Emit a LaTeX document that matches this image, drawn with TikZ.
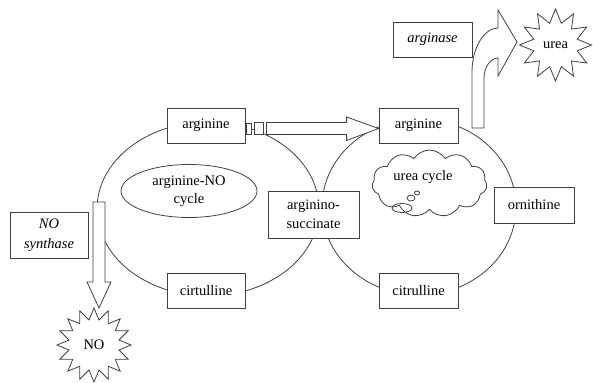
\documentclass[tikz,border=0pt]{standalone}
\usepackage{fontspec}
\setmainfont{Liberation Serif}
\usetikzlibrary{shapes.geometric,shapes.symbols,calc}
\begin{document}
\begin{tikzpicture}[x=1pt,y=-1pt,
  every node/.style={font=\fontsize{14.5}{19}\selectfont},
  ln/.style={draw=black!75,line width=0.8pt},
  box/.style={ln,fill=white,rectangle,inner sep=0pt,align=center},
  loop/.style={ln,ellipse,inner sep=0pt},
  blockarrow/.style={ln,fill=white,line join=miter},
  burst/.style={ln,fill=white,star,inner sep=0pt}]
\useasboundingbox (0,0) rectangle (593,382);
% the two cycles
\node[loop,minimum width=222pt,minimum height=174pt] (leftcycle) at (208,209) {};
\node[loop,minimum width=194pt,minimum height=176pt] (rightcycle) at (419,207) {};
% boxes
\node[box,minimum width=78pt,minimum height=35pt] (argL) at (206,125.5) {arginine};
\node[box,minimum width=79pt,minimum height=35pt] (argR) at (418.5,125.5) {arginine};
\node[box,minimum width=91pt,minimum height=47pt] (suc) at (313.5,214.5) {arginino-\\succinate};
\node[box,minimum width=80pt,minimum height=36pt] (orn) at (534,205) {ornithine};
\node[box,minimum width=79pt,minimum height=35pt] (cit) at (418.5,290.5) {citrulline};
\node[box,minimum width=78pt,minimum height=35pt] (cirt) at (206,290.5) {cirtulline};
\node[box,minimum width=78pt,minimum height=46pt,font=\fontsize{14.5}{20}\selectfont\itshape] (nos) at (49,235) {NO\\synthase};
\node[box,minimum width=79pt,minimum height=35pt,font=\fontsize{14.5}{19}\selectfont\itshape] (ase) at (432.5,39.5) {arginase};
% arginine-NO cycle label
\node[loop,minimum width=136pt,minimum height=53pt,align=center,font=\fontsize{14.5}{18}\selectfont] (anc) at (189,191) {arginine-NO\\cycle};
% urea cycle cloud
\node[cloud,ln,fill=white,cloud puffs=11,cloud puff arc=115,aspect=1.7,minimum width=115pt,minimum height=67pt,inner sep=0pt] (cloud) at (429.5,183.5) {};
\node (ucl) at (423,177) {urea cycle};
\draw[ln] (402,208) ellipse [x radius=10, y radius=4.5];
\draw[ln] (411,198) ellipse [x radius=4, y radius=3];
\draw[ln] (417,193) ellipse [x radius=2.5, y radius=2];
% striped arrow arginine -> arginine
\coordinate (sa) at ($(argL.east)+(0,3)$);
\coordinate (ta) at ($(argR.west)+(0,3)$);
\draw[blockarrow] ($(sa)+(1,-5)$) rectangle ($(sa)+(6,5.5)$);
\draw[blockarrow] ($(sa)+(9,-6)$) rectangle ($(sa)+(18,6)$);
\draw[blockarrow] ($(sa)+(21,-6)$) -- ($(ta)+(-32,-6)$) -- ($(ta)+(-32,-11.5)$) -- (ta)
  -- ($(ta)+(-32,12)$) -- ($(ta)+(-32,6)$) -- ($(sa)+(21,6)$) -- cycle;
% starbursts
\node[burst,star points=16,star point ratio=1.45,minimum size=74pt] (no) at (94,345) {NO};
\node[burst,star points=12,star point ratio=1.6,minimum size=72pt] (urea) at (555.5,45) {urea};
% NO synthase arrow
\coordinate (nt) at ($(no.north)+(5,-2)$);
\draw[blockarrow] (93,202) -- (105,202) -- (105,282) -- (111,282) -- (99,308) -- (87,282) -- (93,282) -- cycle;
% arginase bent arrow
\draw[blockarrow] (472,128) -- (472,72) .. controls (472,48) and (484,28) .. (498,28)
  -- (498,10) -- (517,42) -- (498,76) -- (498,58)
  .. controls (490,58) and (484,68) .. (484,78) -- (484,128) -- cycle;
\end{tikzpicture}
\end{document}
